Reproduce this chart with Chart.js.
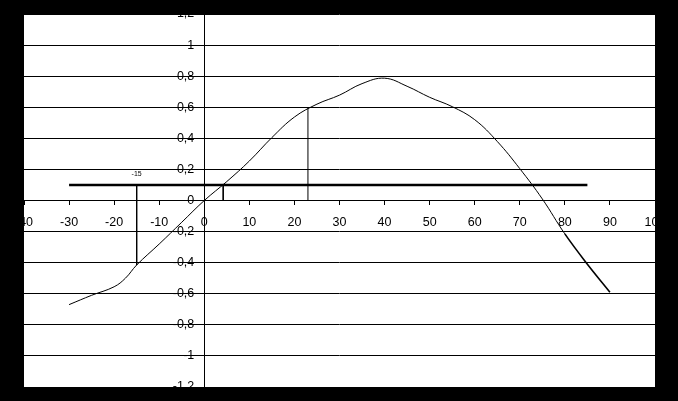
<!DOCTYPE html>
<html>
<head>
<meta charset="utf-8">
<script src="https://cdn.jsdelivr.net/npm/chart.js@4"></script>
<style>
  html, body { margin: 0; padding: 0; background: #000; }
  #chart { display: block; }
</style>
</head>
<body>
<canvas id="chart" width="678" height="401"></canvas>
<script>
// curve
const curveX = [-30, -25, -20, -17.5, -15, -10, -5, 0, 5, 10, 15, 20, 25, 30, 35, 40, 45, 50, 55, 60, 65, 70, 75, 80, 85, 90];
const curveY = [-0.67, -0.61, -0.555, -0.5, -0.415, -0.28, -0.14, 0, 0.122, 0.254, 0.405, 0.537, 0.62, 0.678, 0.752, 0.787, 0.735, 0.664, 0.604, 0.52, 0.38, 0.205, 0.01, -0.215, -0.41, -0.59];

// horizontal level line
const levelX = [-30, 85];
const levelY = [0.1, 0.1];

// drop lines
const dropA = { x: [-15, -15], y: [0.1, -0.415] };
const dropB = { x: [4.2, 4.2], y: [0.1, 0] };
const dropC = { x: [23, 23], y: [0, 0.6] };

const markLabel = { text: '-15', x: -15, y: 0.17 };

const xMin = -40, xMax = 100, xStep = 10;
const yMin = -1.2, yMax = 1.2, yStep = 0.2;

const FONT = '"Liberation Sans", Arial, sans-serif';

const toPoints = (xs, ys) => xs.map((x, i) => ({ x: x, y: ys[i] }));

function fmtComma(v) {
    return String(Number(v.toFixed(1))).replace('.', ',');
}

const whiteArea = {
    id: 'whiteArea',
    beforeDraw(chart) {
        const a = chart.chartArea;
        const c = chart.ctx;
        c.save();
        c.fillStyle = '#fff';
        c.fillRect(a.left, a.top, a.right - a.left, a.bottom - a.top);
        c.restore();
    }
};

// y tick labels, set a bit off the axis like the original
const yLabels = {
    id: 'yLabels',
    afterDraw(chart) {
        const c = chart.ctx;
        const ys = chart.scales.y;
        const x0 = chart.scales.x.getPixelForValue(0);
        c.save();
        c.fillStyle = '#000';
        c.font = '12.5px ' + FONT;
        c.textAlign = 'right';
        c.textBaseline = 'middle';
        ys.ticks.forEach(t => {
            c.fillText(fmtComma(t.value), x0 - 10, ys.getPixelForValue(t.value));
        });
        c.restore();
    }
};

const markText = {
    id: 'markText',
    afterDatasetsDraw(chart) {
        const c = chart.ctx;
        const px = chart.scales.x.getPixelForValue(markLabel.x);
        const py = chart.scales.y.getPixelForValue(markLabel.y);
        c.save();
        c.fillStyle = '#000';
        c.font = '7px ' + FONT;
        c.textAlign = 'center';
        c.textBaseline = 'middle';
        c.fillText(markLabel.text, px, py);
        c.restore();
    }
};

const thin = (data) => ({
    data: data,
    borderColor: '#000',
    borderWidth: 1,
    pointRadius: 0,
    tension: 0,
    fill: false
});

new Chart(document.getElementById('chart'), {
    type: 'line',
    data: {
        datasets: [
            {
                data: toPoints(curveX, curveY),
                borderColor: '#000',
                borderWidth: 1,
                pointRadius: 0,
                tension: 0.4,
                fill: false,
                segment: {
                    borderWidth: ctx => (ctx.p0.parsed.x >= 80 ? 1.6 : 1)
                }
            },
            Object.assign(thin(toPoints(levelX, levelY)), { borderWidth: 2.5 }),
            thin(toPoints(dropA.x, dropA.y)),
            thin(toPoints(dropB.x, dropB.y)),
            thin(toPoints(dropC.x, dropC.y))
        ]
    },
    options: {
        responsive: false,
        devicePixelRatio: 1,
        animation: false,
        layout: { padding: { left: 24, right: 23, top: 14, bottom: 14 } },
        plugins: {
            legend: { display: false },
            tooltip: { enabled: false }
        },
        scales: {
            x: {
                type: 'linear',
                position: { y: 0 },
                min: xMin,
                max: xMax,
                ticks: {
                    stepSize: xStep,
                    color: '#000',
                    padding: 11,
                    maxRotation: 0,
                    autoSkip: false,
                    font: { family: FONT, size: 12.5 }
                },
                grid: { drawOnChartArea: false, drawTicks: true, tickLength: 4, color: '#000' },
                border: { display: true, color: '#000' }
            },
            y: {
                type: 'linear',
                position: { x: 0 },
                min: yMin,
                max: yMax,
                ticks: {
                    stepSize: yStep,
                    display: false
                },
                grid: { drawOnChartArea: true, drawTicks: true, tickLength: 4, color: '#000' },
                border: { display: true, color: '#000' }
            }
        }
    },
    plugins: [whiteArea, yLabels, markText]
});
</script>
</body>
</html>
